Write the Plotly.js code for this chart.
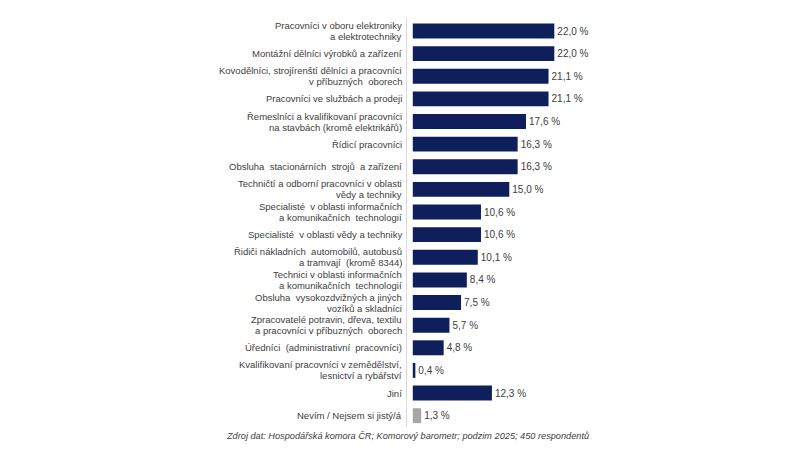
<!DOCTYPE html>
<html>
<head>
<meta charset="utf-8">
<script src="https://cdn.plot.ly/plotly-3.0.1.min.js"></script>
<style>
  html, body { margin: 0; padding: 0; background: #fff; }
  #plot { width: 800px; height: 450px; }
</style>
</head>
<body>
<div id="plot"></div>
<script>
// profese, shora dolu (radky oddelene <br>)
const profese = [
  'Pracovníci v oboru elektroniky<br>a elektrotechniky',
  'Montážní dělníci výrobků a zařízení',
  'Kovodělníci, strojírenští dělníci a pracovníci<br>v příbuzných  oborech',
  'Pracovníci ve službách a prodeji',
  'Řemeslníci a kvalifikovaní pracovníci<br>na stavbách (kromě elektrikářů)',
  'Řídicí pracovníci',
  'Obsluha  stacionárních  strojů  a zařízení',
  'Techničtí a odborní pracovníci v oblasti<br>vědy a techniky',
  'Specialisté  v oblasti informačních<br>a komunikačních  technologií',
  'Specialisté  v oblasti vědy a techniky',
  'Řidiči nákladních  automobilů, autobusů<br>a tramvají  (kromě 8344)',
  'Technici v oblasti informačních<br>a komunikačních  technologií',
  'Obsluha  vysokozdvižných a jiných<br>vozíků a skladníci',
  'Zpracovatelé potravin, dřeva, textilu<br>a pracovníci v příbuzných  oborech',
  'Úředníci  (administrativní  pracovníci)',
  'Kvalifikovaní pracovníci v zemědělství,<br>lesnictví a rybářství',
  'Jiní',
  'Nevím / Nejsem si jistý/á'
]
const podil = [22.0, 22.0, 21.1, 21.1, 17.6, 16.3, 16.3, 15.0, 10.6, 10.6, 10.1, 8.4, 7.5, 5.7, 4.8, 0.4, 12.3, 1.3]
const barvy = profese.map((p, i) => i === profese.length - 1 ? '#a6a6a6' : '#0e1f5b')

const popisky = podil.map(v => v.toFixed(1).replace('.', ',') + ' %')
const font = 'Liberation Sans, Arial, sans-serif'

// popisky kategorii jako anotace - kvuli tesnejsimu radkovani
const radky = []
profese.forEach(p => {
  const casti = p.split('<br>')
  casti.forEach((t, j) => {
    radky.push({
      xref: 'paper', yref: 'y', x: 0, y: p,
      xanchor: 'right', yanchor: 'middle', xshift: -3,
      yshift: (casti.length - 1) * 5.5 - j * 11,
      text: t, showarrow: false,
      font: { family: font, size: 9.5, color: '#404040' }
    })
  })
})

const data = [{
  type: 'bar',
  orientation: 'h',
  x: podil,
  y: profese,
  marker: { color: barvy },
  text: popisky,
  textposition: 'outside',
  cliponaxis: false,
  textfont: { family: font, size: 10, color: '#404040' },
  hoverinfo: 'none'
}]

const layout = {
  width: 800, height: 450,
  margin: { l: 407, r: 200, t: 18, b: 23 },
  paper_bgcolor: '#fff', plot_bgcolor: '#fff',
  showlegend: false,
  bargap: 0.34,
  xaxis: {
    range: [-0.9, 29.1],
    visible: false,
    fixedrange: true
  },
  yaxis: {
    autorange: 'reversed',
    showline: true, linecolor: '#d9d9d9', linewidth: 1,
    showgrid: false, zeroline: false,
    ticks: '', showticklabels: false
  },
  annotations: radky.concat([{
    xref: 'paper', yref: 'paper',
    x: 0, y: -0.022, xanchor: 'center', yanchor: 'middle',
    text: '<i>Zdroj dat: Hospodářská komora ČR; Komorový barometr; podzim 2025; 450 respondentů</i>',
    showarrow: false,
    font: { family: font, size: 9.2, color: '#404040' }
  }])
}

Plotly.newPlot('plot', data, layout, { displayModeBar: false, staticPlot: true })
</script>
</body>
</html>
